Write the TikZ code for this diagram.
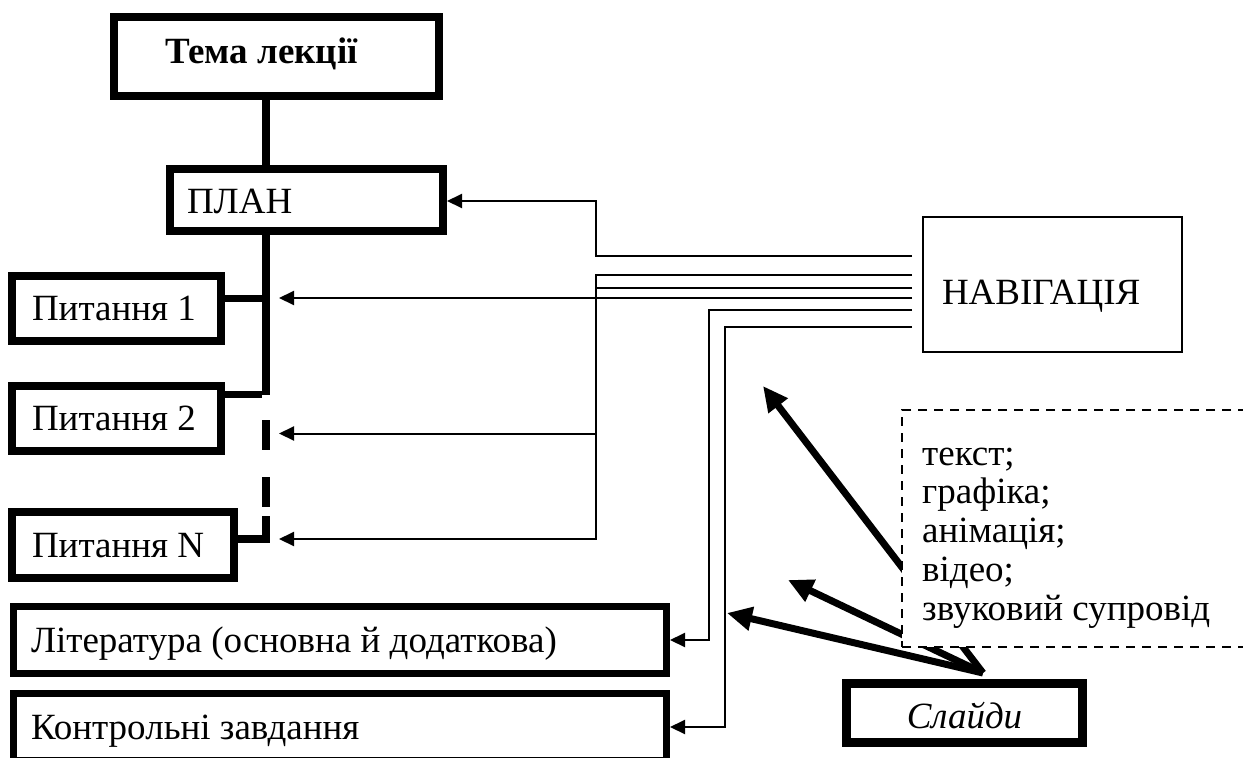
\documentclass[tikz,border=0pt]{standalone}
\usepackage{fontspec}
\setmainfont{Liberation Serif}
\usetikzlibrary{arrows.meta,calc}
\newcommand\lbox[2]{\makebox[#1][l]{#2}}
\tikzset{
  every node/.style={font=\fontsize{37pt}{38.75pt}\selectfont, inner ysep=0pt, text depth=0pt},
  heavybox/.style={draw, fill=white, line width=8pt},
  midbox/.style={draw, fill=white, line width=7pt},
  lightbox/.style={draw, fill=white, line width=2pt},
  dashbox/.style={draw, fill=white, line width=2pt, dash pattern=on 9pt off 7pt},
  spine/.style={line width=8pt},
  branch/.style={line width=7pt},
  thinarrow/.style={line width=2pt, -{Triangle[length=15pt,width=14pt]}},
  bigarrow/.style={line width=7pt, -{Triangle[length=25pt,width=23pt]}},
}
\begin{document}
\begin{tikzpicture}[x=1pt,y=-1pt]
\useasboundingbox (0,0) rectangle (1243,758);

% boxes
\node[heavybox, minimum width=325pt, minimum height=79pt, inner xsep=51pt, text height=13pt] (tema) at (276.5,56.5) {\lbox{223pt}{\textbf{Тема лекції}}};
\node[heavybox, minimum width=273pt, minimum height=62pt, inner xsep=17pt, text height=26pt] (plan) at (306.5,200) {\lbox{239pt}{ПЛАН}};
\node[heavybox, minimum width=209pt, minimum height=65pt, inner xsep=20pt, text height=23pt] (p1) at (116.5,308.5) {\lbox{169pt}{Питання 1}};
\node[heavybox, minimum width=209pt, minimum height=65pt, inner xsep=20pt, text height=23pt] (p2) at (116.5,418.5) {\lbox{169pt}{Питання 2}};
\node[heavybox, minimum width=222pt, minimum height=66pt, inner xsep=20pt, text height=24pt] (pn) at (123,545) {\lbox{182pt}{Питання N}};
\node[midbox, minimum width=653pt, minimum height=67pt, inner xsep=17.5pt, text height=24pt] (lit) at (340,640) {\lbox{618pt}{Література (основна й додаткова)}};
\node[midbox, minimum width=653pt, minimum height=67pt, inner xsep=17.5pt, text height=24pt] (kon) at (340,727) {\lbox{618pt}{Контрольні завдання}};
\node[heavybox, line width=9pt, minimum width=236pt, minimum height=59pt, text height=30pt] (slides) at (964.5,713) {\itshape Слайди};
\node[lightbox, minimum width=259pt, minimum height=135pt, inner xsep=19pt, text height=39pt] (nav) at (1052.5,284.5) {\lbox{221pt}{НАВІГАЦІЯ}};

% spine
\coordinate (sx) at (266,0);
\coordinate (send) at (266,395);
\draw[spine] (tema.south -| sx) -- (plan.north -| sx);
\draw[spine] (plan.south -| sx) -- (send);
\draw[branch] (p1.east |- 0,298) -- (266,298);
\draw[branch] (p2.east |- 0,394) -- (262,394);
\draw[spine] (266,420) -- (266,450);
\draw[spine] (266,477) -- (266,507);
\draw[branch, line width=8pt] (266,516) -- (266,539) -- (pn.east |- 0,539);

% navigation connectors
\path (nav.west) ++(-10,0) coordinate (nw);
\coordinate (t1) at (279,298);
\coordinate (t2) at (279,433.5);
\coordinate (tn) at (279,539);
\draw[thinarrow] (nw |- 0,256) -| (596,201) -- (plan.east |- 0,201);
\draw[thinarrow] (nw |- 0,275) -| (596,539) -- (tn);
\draw[thinarrow] (nw |- 0,288) -| (596,433.5) -- (t2);
\draw[thinarrow] (nw |- 0,298) -- (t1);
\draw[thinarrow] (nw |- 0,310) -| (lit.east -| 709,0) -- (lit.east);
\draw[thinarrow] (nw |- 0,327) -| (kon.east -| 725,0) -- (kon.east);

% slide arrows
\coordinate (sl) at ($(slides.north)+(18.5,-6)$);
\coordinate (a1) at (763,386);
\coordinate (a2) at (788,580);
\coordinate (a3) at (727,613);
\draw[bigarrow] (sl) -- (a1);
\draw[bigarrow] (sl) -- (a2);
\draw[bigarrow] (sl) -- (a3);

% media box
\node[dashbox, minimum width=358pt, minimum height=237pt] (media) at (1081,528.5) {};
\node[align=left, anchor=base west, inner xsep=0pt] (mediatext) at (922,620) {текст;\\графіка;\\анімація;\\відео;\\звуковий супровід};
\end{tikzpicture}
\end{document}
